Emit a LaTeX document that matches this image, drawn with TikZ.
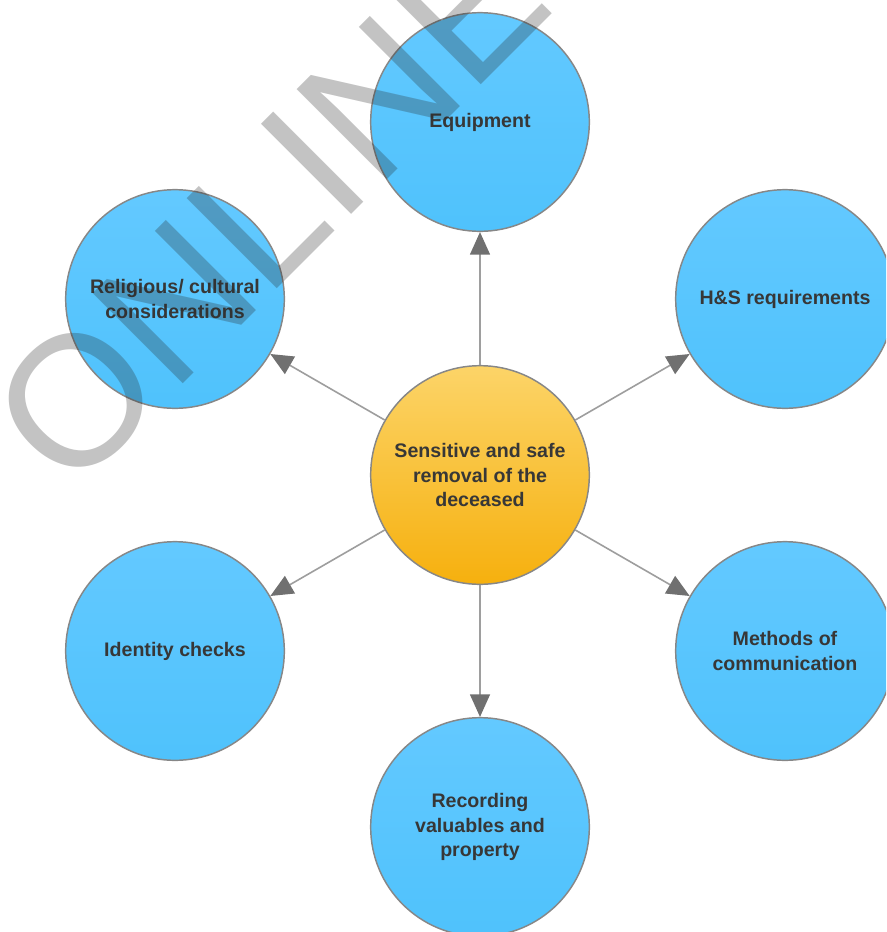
\documentclass[tikz,border=0pt]{standalone}
\usepackage{fontspec}
\setmainfont{Liberation Sans}
\usetikzlibrary{arrows.meta}

\definecolor{topicTop}{RGB}{99,201,255}
\definecolor{topicBot}{RGB}{79,194,252}
\definecolor{hubTop}{RGB}{252,212,104}
\definecolor{hubBot}{RGB}{246,176,14}
\definecolor{rimGray}{RGB}{135,135,135}
\definecolor{linkGray}{RGB}{158,158,158}
\definecolor{tipGray}{RGB}{112,112,112}
\definecolor{labelGray}{RGB}{55,55,55}

\tikzset{
  topic/.style={circle, draw=rimGray, line width=1.1pt, minimum size=164pt, inner sep=0pt,
    top color=topicTop, bottom color=topicBot, text=labelGray, align=center,
    font=\bfseries\fontsize{14.7}{18.5}\selectfont},
  hub/.style={topic, top color=hubTop, bottom color=hubBot},
  link/.style={draw=linkGray, line width=1.2pt, -{Triangle[length=17pt,width=15pt,color=tipGray]}}
}

\begin{document}
\begin{tikzpicture}[x=0.75pt,y=-0.75pt]
\useasboundingbox (0,0) rectangle (886,932);
\clip (0,0) rectangle (886,932);

\node[hub] (hub) at (480,475) {Sensitive and safe\\removal of the\\deceased};

\node[topic] (equip) at (480,122) {Equipment};
\node[topic] (hands) at (785,299) {H\&S requirements};
\node[topic] (comms) at (785,651) {Methods of\\communication};
\node[topic] (record) at (480,827) {Recording\\valuables and\\property};
\node[topic] (ident) at (175,651) {Identity checks};
\node[topic] (relig) at (175,299) {Religious/ cultural\\considerations};

\draw[link] (hub) -- (equip);
\draw[link] (hub) -- (hands);
\draw[link] (hub) -- (comms);
\draw[link] (hub) -- (record);
\draw[link] (hub) -- (ident);
\draw[link] (hub) -- (relig);

% watermark
\node[rotate=45, text=black!85, text opacity=0.28, inner sep=0pt,
  font=\fontsize{139}{139}\selectfont] (stamp) at (269,207) {ONLINE};

\end{tikzpicture}
\end{document}
